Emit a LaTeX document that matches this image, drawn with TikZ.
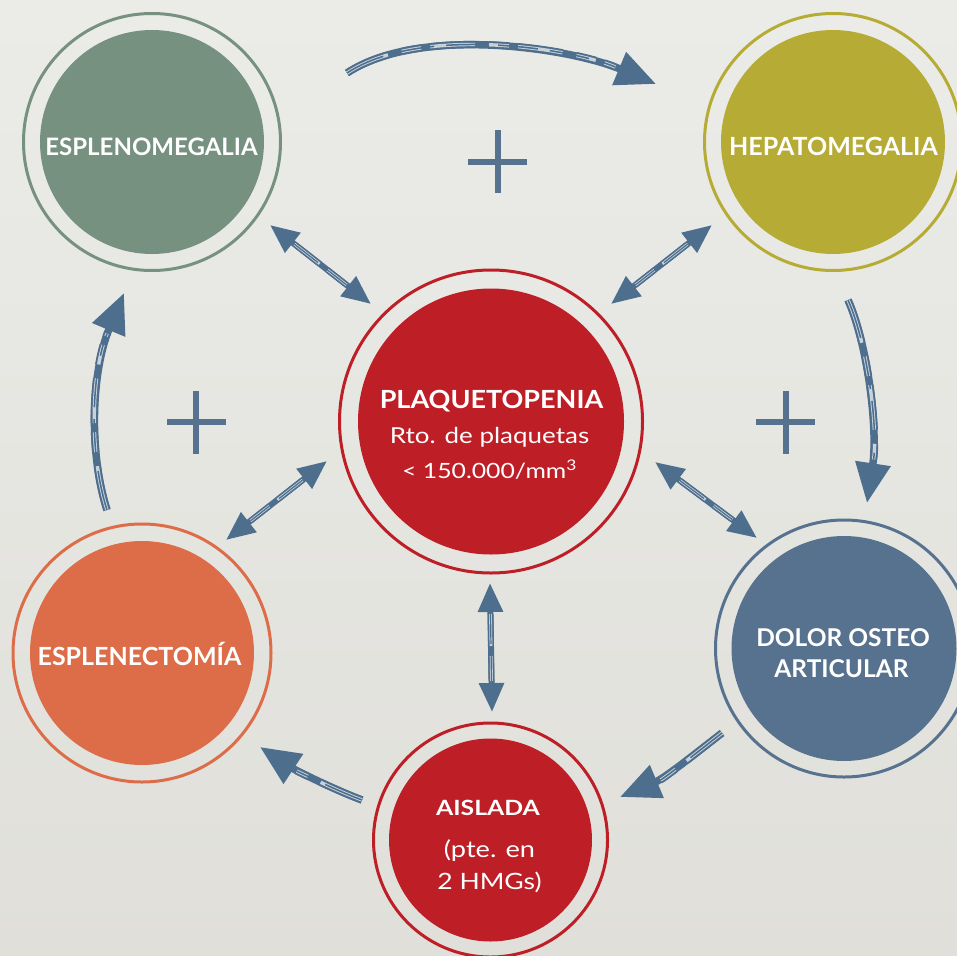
\documentclass[tikz,border=0pt]{standalone}
\usepackage{fontspec}
\setmainfont{Lato}
\newfontfamily\latoa[FakeStretch=1.08]{Lato}
\newfontfamily\latob[FakeStretch=1.18]{Lato}
\usetikzlibrary{arrows.meta,calc}
\definecolor{bgtop}{HTML}{EBECE8}
\definecolor{bgbot}{HTML}{E0DFDA}
\definecolor{cgreen}{HTML}{76917F}
\definecolor{colive}{HTML}{B6AB35}
\definecolor{cred}{HTML}{BE1E26}
\definecolor{corange}{HTML}{DC6D48}
\definecolor{cblue}{HTML}{57728F}
\definecolor{carrow}{HTML}{4E6E8D}
\definecolor{streak}{HTML}{C9D1D9}
\tikzset{
  ring/.style={circle, draw=#1, line width=3pt, inner sep=0pt, outer sep=0pt},
  disc/.style={circle, fill=#1, inner sep=0pt, outer sep=0pt},
  lbl/.style={text=white, anchor=base, inner sep=0pt, font=\bfseries\fontsize{25}{25}\selectfont},
  sublbl/.style={text=white, anchor=base, inner sep=0pt},
  brush/.style={draw=carrow, line width=7.5pt, -{Triangle[length=40pt,width=34pt]},
    postaction={draw=carrow, double=streak, line width=1.9pt, double distance=3.4pt, arrows=-, shorten >=44pt, dash pattern=on 45pt off 14pt on 20pt off 9pt},
    postaction={draw=carrow, line width=1.5pt, arrows=-, shorten >=44pt, dash pattern=on 40pt off 12pt}},
  bibrush/.style={draw=carrow, line width=6pt, {Triangle[length=29pt,width=24pt]}-{Triangle[length=29pt,width=24pt]},
    postaction={draw=carrow, double=streak, line width=1.5pt, double distance=2.8pt, arrows=-, shorten >=31pt, shorten <=31pt, dash pattern=on 32pt off 10pt},
    postaction={draw=carrow, line width=1.2pt, arrows=-, shorten >=31pt, shorten <=31pt, dash pattern=on 30pt off 8pt}},
  plusmark/.style={draw=cblue, line width=6pt},
}
\begin{document}
\begin{tikzpicture}[x=1pt,y=-1pt]
\useasboundingbox (0,0) rectangle (957,955);
\fill[top color=bgtop, bottom color=bgbot] (0,0) rectangle (957,955);

% circles
\node[ring=cgreen, minimum size=257pt] (E) at (152,142) {};
\node[disc=cgreen, minimum size=224pt] (Ed) at (152,142) {};
\node[ring=colive, minimum size=257pt] (H) at (833,142) {};
\node[disc=colive, minimum size=224pt] (Hd) at (833,142) {};
\node[ring=cred, minimum size=303pt] (P) at (491,421.5) {};
\node[disc=cred, minimum size=266pt] (Pd) at (491,421.5) {};
\node[ring=corange, minimum size=258pt] (S) at (142,653) {};
\node[disc=corange, minimum size=224pt] (Sd) at (142,653) {};
\node[ring=cblue, minimum size=257pt] (D) at (844,648.5) {};
\node[disc=cblue, minimum size=225pt] (Dd) at (844,648.5) {};
\node[ring=cred, minimum size=234pt] (A) at (490.5,840) {};
\node[disc=cred, minimum size=203pt] (Ad) at (490.5,840) {};

% labels
\node[lbl, font=\bfseries\fontsize{24}{24}\selectfont] (tE) at (151.5,155) {ESPLENOMEGALIA};
\node[lbl] (tH) at (833.5,155) {HEPATOMEGALIA};
\node[lbl, font=\latoa\bfseries\fontsize{25}{25}\selectfont] (tP1) at (491.5,408) {PLAQUETOPENIA};
\node[sublbl, font=\latob\fontsize{22}{22}\selectfont] (tP2) at (489.5,443) {Rto. de plaquetas};
\node[sublbl, font=\latob\fontsize{21}{21}\selectfont] (tP3) at (489.5,478) {< 150.000/mm\textsuperscript{3}};
\node[lbl, font=\bfseries\fontsize{24.5}{24.5}\selectfont] (tD1) at (843,646) {DOLOR OSTEO};
\node[lbl, font=\bfseries\fontsize{24.5}{24.5}\selectfont] (tD2) at (841.5,677) {ARTICULAR};
\node[lbl] (tS) at (139.5,665) {ESPLENECTOMÍA};
\node[lbl, font=\latob\bfseries\fontsize{21}{21}\selectfont] (tA1) at (488,815) {AISLADA};
\node[sublbl, font=\latob\fontsize{23}{23}\selectfont] (tA2) at (489.5,857) {(pte. en};
\node[sublbl, font=\latob\fontsize{22.5}{22.5}\selectfont] (tA3) at (489.5,889) {2 HMGs)};

% plus signs
\draw[plusmark] (468,162) -- (527,162) (498,130) -- (498,193);
\draw[plusmark] (167,422) -- (226,422) (196,391) -- (196,454);
\draw[plusmark] (756,422) -- (815,422) (786,391) -- (786,454);

% arrow end points
\coordinate (EH-e) at (347,73);   \coordinate (EH-h) at (656,84);
\coordinate (HD-h) at (848,300);  \coordinate (HD-d) at (867,503);
\coordinate (DA-d) at (722,733);  \coordinate (DA-a) at (620,797);
\coordinate (AS-a) at (362,800);  \coordinate (AS-s) at (260,747);
\coordinate (SE-s) at (107,510);  \coordinate (SE-e) at (124,293);
\coordinate (EP-e) at (270,225);  \coordinate (EP-p) at (371,304);
\coordinate (HP-h) at (712,225);  \coordinate (HP-p) at (611,304);
\coordinate (PD-p) at (655,462);  \coordinate (PD-d) at (757,538);
\coordinate (PA-p) at (490,583);  \coordinate (PA-a) at (492,712);
\coordinate (PS-p) at (327,461);  \coordinate (PS-s) at (226,540);

% cycle arrows
\draw[brush] (EH-e) .. controls (420,25) and (570,48) .. (EH-h);
\draw[brush] (HD-h) .. controls (868,345) and (878,430) .. (HD-d);
\draw[brush] (DA-d) .. controls (700,750) and (665,778) .. (DA-a);
\draw[brush] (AS-a) .. controls (335,790) and (295,770) .. (AS-s);
\draw[brush] (SE-s) .. controls (88,450) and (92,370) .. (SE-e);

% two-way arrows
\draw[bibrush] (EP-e) -- (EP-p);
\draw[bibrush] (HP-h) -- (HP-p);
\draw[bibrush] (PD-p) -- (PD-d);
\draw[bibrush] (PA-p) -- (PA-a);
\draw[bibrush] (PS-p) -- (PS-s);
\end{tikzpicture}
\end{document}
